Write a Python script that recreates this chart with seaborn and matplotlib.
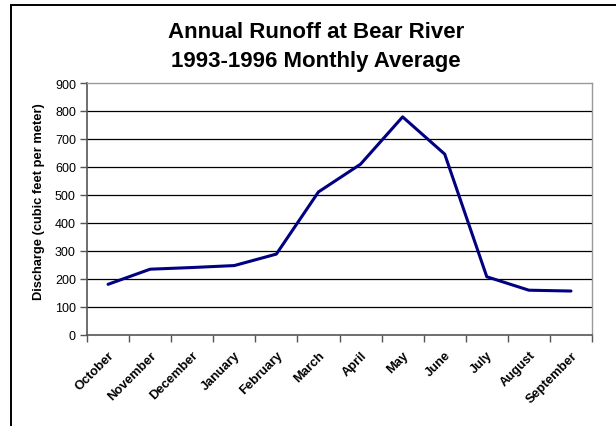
import numpy as np
import pandas as pd
import matplotlib
matplotlib.use("Agg")
import matplotlib.pyplot as plt
from matplotlib.patches import Rectangle
import seaborn as sns

months = ["October", "November", "December", "January", "February", "March",
          "April", "May", "June", "July", "August", "September"]
discharge = [181, 235, 241, 248, 289, 511, 610, 779, 646, 208, 160, 157]
y_ticks = [0, 100, 200, 300, 400, 500, 600, 700, 800, 900]

sns.set_style("white")
plt.rcParams["font.family"] = ["Liberation Sans", "DejaVu Sans"]
plt.rcParams.update({"text.color": "black", "axes.labelcolor": "black",
                     "xtick.color": "black", "ytick.color": "black"})

df = pd.DataFrame({"pos": np.arange(len(months)), "month": months, "discharge": discharge})

fig = plt.figure(figsize=(6.16, 4.27), dpi=100)
ax = fig.add_axes([87 / 616, 1 - 336 / 427, (592 - 87) / 616, (336 - 84) / 427])

# horizontal gridlines drawn under the series
for v in y_ticks[1:-1]:
    ax.axhline(v, color="black", lw=0.9, zorder=1)

sns.lineplot(data=df, x="pos", y="discharge", ax=ax, color="#000080",
             linewidth=2.2, sort=False, zorder=3)

ax.set_xlim(-0.5, len(months) - 0.5)
ax.set_ylim(0, 900)
ax.set_yticks(y_ticks)
ax.set_yticklabels([str(v) for v in y_ticks], fontsize=9)

# category boundaries carry the tick marks, centres carry the labels
ax.set_xticks(np.arange(-0.5, len(months), 1.0))
ax.set_xticklabels([])
ax.set_xticks(np.arange(len(months)), minor=True)
ax.set_xticklabels(months, minor=True, rotation=45, ha="right",
                   rotation_mode="anchor", fontsize=9.3, fontweight="bold")
ax.tick_params(axis="x", which="minor", length=0, pad=10)
ax.tick_params(axis="x", which="major", direction="out", length=5, width=1,
               color="#555555", bottom=True)
ax.tick_params(axis="y", direction="out", length=5, width=1, color="#555555",
               left=True, pad=3)

for side in ["left", "bottom"]:
    ax.spines[side].set_color("#555555")
    ax.spines[side].set_linewidth(1.2)
for side in ["top", "right"]:
    ax.spines[side].set_visible(True)
    ax.spines[side].set_color("#999999")
    ax.spines[side].set_linewidth(1)

ax.set_xlabel("")
ax.set_ylabel("Discharge (cubic feet per meter)", fontsize=9.3, fontweight="bold")
ax.yaxis.set_label_coords(-42 / 505, (336 - 202) / 252)

fig.text(316 / 616, 1 - 33 / 427, "Annual Runoff at Bear River", ha="center",
         va="center", fontsize=16, fontweight="bold")
fig.text(316 / 616, 1 - 62 / 427, "1993-1996 Monthly Average", ha="center",
         va="center", fontsize=16, fontweight="bold")

# chart frame running off the right and bottom edges
fig.patches.append(Rectangle((10.5 / 616, -0.05), 1.2, 1 - 5.5 / 427 + 0.05,
                             transform=fig.transFigure, fill=False,
                             edgecolor="black", linewidth=1.4))

fig.savefig("out.png", dpi=100)
